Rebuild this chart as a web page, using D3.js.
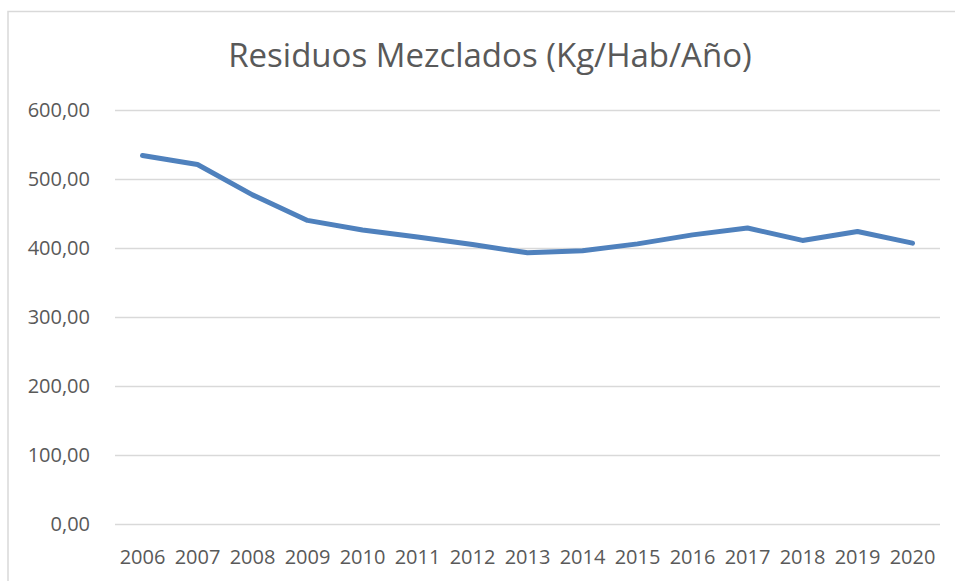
<!DOCTYPE html>
<html>
<head>
<meta charset="utf-8">
<script src="https://cdn.jsdelivr.net/npm/d3@7"></script>
<style>
  body { margin: 0; background: #fff; }
  svg { display: block; font-family: "Open Sans", "Noto Sans", sans-serif; }
</style>
</head>
<body>
<svg id="chart" width="955" height="581"></svg>
<script>
const years = ['2006', '2007', '2008', '2009', '2010', '2011', '2012', '2013',
  '2014', '2015', '2016', '2017', '2018', '2019', '2020'];
const values = [534, 521, 477, 440, 426, 416, 405, 393, 396, 406, 419, 429, 411, 424, 407];
const yTicks = [0, 100, 200, 300, 400, 500, 600];

const W = 955, H = 581;
const m = { left: 115, right: 15, top: 110, bottom: 57 };

const svg = d3.select('#chart');

// chart area border (right/bottom edges run off the frame)
svg.append('rect')
  .attr('x', 8).attr('y', 11.5)
  .attr('width', 1000).attr('height', 1000)
  .attr('fill', 'none').attr('stroke', '#d9d9d9').attr('stroke-width', 1.5);

svg.append('text')
  .attr('x', 490).attr('y', 67)
  .attr('text-anchor', 'middle')
  .attr('fill', '#595959')
  .attr('font-size', 33)
  .text('Residuos Mezclados (Kg/Hab/Año)');

const x = d3.scaleBand().domain(years).range([m.left, W - m.right]);
const y = d3.scaleLinear().domain([0, 600]).range([H - m.bottom, m.top]);

// gridlines
svg.append('g')
  .selectAll('line').data(yTicks).join('line')
  .attr('x1', m.left).attr('x2', W - m.right)
  .attr('y1', d => Math.round(y(d)) + 0.5).attr('y2', d => Math.round(y(d)) + 0.5)
  .attr('stroke', '#d9d9d9').attr('stroke-width', 1.5);

const fmt = d => d3.format('.2f')(d).replace('.', ',');

svg.append('g')
  .selectAll('text').data(yTicks).join('text')
  .attr('x', 90).attr('y', d => y(d))
  .attr('dy', '0.35em')
  .attr('text-anchor', 'end')
  .attr('fill', '#595959')
  .attr('font-size', 20)
  .text(fmt);

svg.append('g')
  .selectAll('text').data(years).join('text')
  .attr('x', d => x(d) + x.bandwidth() / 2).attr('y', 557)
  .attr('dy', '0.35em')
  .attr('text-anchor', 'middle')
  .attr('fill', '#595959')
  .attr('font-size', 20)
  .text(d => d);

const line = d3.line()
  .x((d, i) => x(years[i]) + x.bandwidth() / 2)
  .y(d => y(d));

svg.append('path')
  .datum(values)
  .attr('d', line)
  .attr('fill', 'none')
  .attr('stroke', '#4f81bd')
  .attr('stroke-width', 5)
  .attr('stroke-linecap', 'round')
  .attr('stroke-linejoin', 'round');
</script>
</body>
</html>
